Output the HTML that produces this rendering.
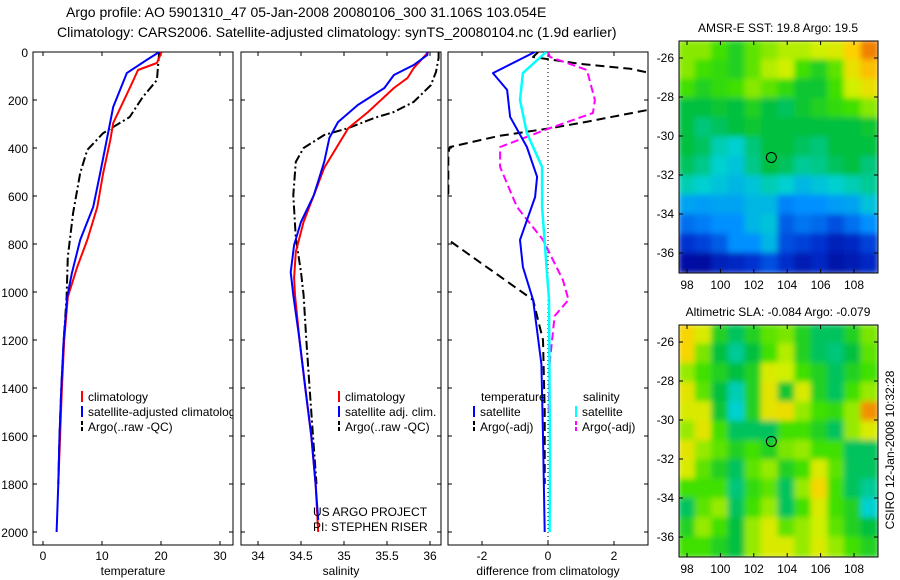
<!DOCTYPE html>
<html><head><meta charset="utf-8"><style>
html,body{margin:0;padding:0;background:#fff;}
svg{display:block;font-family:"Liberation Sans",sans-serif;}
</style></head><body>
<svg id="chart" width="900" height="580" viewBox="0 0 900 580" xmlns="http://www.w3.org/2000/svg">
<defs>
<clipPath id="c1"><rect x="33" y="52" width="200" height="493"/></clipPath>
<clipPath id="c2"><rect x="241" y="52" width="200" height="493"/></clipPath>
<clipPath id="c3"><rect x="448" y="52" width="200" height="493"/></clipPath>
<clipPath id="cm1"><rect x="679" y="41" width="199" height="232"/></clipPath>
<clipPath id="cm2"><rect x="679" y="325" width="199" height="232"/></clipPath>
<filter id="bl" x="-5%" y="-5%" width="110%" height="110%"><feGaussianBlur stdDeviation="3"/></filter>
</defs>
<g id="root"></g>
</svg>
<script>
// ---- data ----
const depthTicks=[0,200,400,600,800,1000,1200,1400,1600,1800,2000];
const tempTicks=[0,10,20,30];
const salTicks=[34,34.5,35,35.5,36];
const salTickLabels=["34","34.5","35","35.5","36"];
const diffTicks=[-2,0,2];
const lonTicks=[98,100,102,104,106,108];
const latTicks=[-26,-28,-30,-32,-34,-36];

const tClimD=[0,46,75,129,296,367,504,646,783,896,1021,1200,1400,1600,1800];
const tClimV=[20.1,19.3,16.1,15.1,11.9,11.4,10.2,9.2,7.5,5.8,4.2,3.6,3.2,2.9,2.6];
const tSatD=[0,33,88,229,367,504,646,783,921,1021,1200,1400,1600,1800,2000];
const tSatV=[19.7,17.6,14.2,11.9,10.8,9.7,8.5,6.3,4.9,4.1,3.5,3.1,2.8,2.6,2.3];
const tArgoD=[0,117,188,271,338,408,504,671,854,1021,1200,1400,1600,1800];
const tArgoV=[19.7,19.3,16.9,14.7,10.2,7.5,6.3,5.1,4.2,4.0,3.5,3.1,2.8,2.6];

const sClimD=[0,67,108,150,250,317,388,483,596,708,833,942,1013,1192,1400,1600,1800,2000];
const sClimV=[35.98,35.81,35.74,35.58,35.28,35.05,34.93,34.77,34.65,34.53,34.44,34.42,34.43,34.48,34.55,34.62,34.67,34.7];
const sSatD=[0,12,54,96,150,221,292,358,458,596,708,804,917,1013,1192,1400,1600,1800,1950];
const sSatV=[35.97,35.97,35.81,35.58,35.47,35.16,34.93,34.83,34.77,34.65,34.5,34.42,34.38,34.41,34.48,34.55,34.62,34.67,34.7];
const sArgoD=[0,25,83,138,208,250,275,317,346,400,458,596,775,917,1013,1192,1400,1600,1800];
const sArgoV=[36.1,36.1,36.07,36.01,35.81,35.58,35.35,35.05,34.77,34.53,34.44,34.41,34.44,34.5,34.53,34.56,34.6,34.64,34.68];

const dTSatD=[0,88,158,270,396,520,604,783,896,1033,1300,1600,2000];
const dTSatV=[-0.4,-1.67,-1.24,-1.15,-0.64,-0.33,-0.39,-0.85,-0.76,-0.45,-0.2,-0.15,-0.1];
const dSSatD=[0,4,88,200,338,479,646,921,1033,1400,1700,2000];
const dSSatV=[-0.05,-0.09,-0.76,-0.85,-0.64,-0.18,-0.18,-0.03,0.03,0.05,0.06,0.05];
const dSArgoD=[0,21,75,200,254,317,396,479,646,783,950,1033,1100,1300,1500];
const dSArgoV=[0,0.06,1.18,1.42,1.36,0.06,-1.45,-1.45,-0.94,-0.15,0.45,0.62,0.2,0.05,0.02];
const dTArgoD=[0,21,50,70,88,100,180,221,242,290,317,350,396,420,590,600,760,775,1033,1200,1500,1800];
const dTArgoV=[-0.3,-0.45,1,2.5,3.1,4.5,5,3.2,3.0,1.2,0.1,-1.5,-2.97,-3.02,-3.02,-5,-5,-3.1,-0.45,-0.15,-0.1,-0.1];

const sstGrid=[
[0.65,0.65,0.6,0.55,0.62,0.65,0.68,0.68,0.7,0.72,0.8,0.9],
[0.65,0.6,0.58,0.55,0.62,0.68,0.7,0.6,0.55,0.62,0.75,0.82],
[0.6,0.55,0.58,0.6,0.65,0.62,0.58,0.52,0.52,0.6,0.7,0.75],
[0.5,0.5,0.52,0.5,0.55,0.5,0.48,0.52,0.55,0.58,0.6,0.65],
[0.5,0.46,0.48,0.5,0.52,0.5,0.5,0.5,0.5,0.5,0.5,0.52],
[0.5,0.48,0.42,0.4,0.46,0.5,0.5,0.48,0.46,0.5,0.5,0.5],
[0.48,0.45,0.4,0.38,0.45,0.5,0.48,0.44,0.45,0.48,0.5,0.46],
[0.42,0.4,0.38,0.36,0.38,0.42,0.4,0.36,0.38,0.4,0.42,0.44],
[0.33,0.32,0.33,0.33,0.36,0.36,0.28,0.3,0.3,0.32,0.33,0.38],
[0.25,0.27,0.3,0.3,0.36,0.38,0.22,0.26,0.24,0.2,0.25,0.3],
[0.15,0.18,0.22,0.3,0.3,0.36,0.2,0.18,0.15,0.1,0.12,0.18],
[0.05,0.04,0.1,0.12,0.15,0.2,0.14,0.08,0.12,0.06,0.08,0.12]];
const slaGrid=[
[0.78,0.72,0.55,0.48,0.55,0.62,0.64,0.55,0.48,0.48,0.55,0.64],
[0.78,0.64,0.5,0.44,0.5,0.6,0.68,0.55,0.48,0.46,0.5,0.62],
[0.66,0.6,0.55,0.5,0.55,0.72,0.7,0.6,0.55,0.48,0.55,0.6],
[0.74,0.62,0.5,0.42,0.55,0.74,0.52,0.72,0.55,0.48,0.6,0.66],
[0.72,0.72,0.52,0.4,0.55,0.74,0.76,0.66,0.6,0.58,0.66,0.88],
[0.66,0.74,0.6,0.48,0.48,0.48,0.6,0.6,0.55,0.48,0.66,0.72],
[0.74,0.66,0.62,0.55,0.6,0.55,0.64,0.66,0.6,0.6,0.48,0.48],
[0.72,0.62,0.55,0.48,0.62,0.66,0.55,0.6,0.72,0.62,0.48,0.48],
[0.6,0.6,0.6,0.46,0.58,0.62,0.48,0.66,0.78,0.6,0.48,0.44],
[0.48,0.62,0.66,0.48,0.6,0.66,0.48,0.6,0.72,0.6,0.55,0.4],
[0.55,0.66,0.6,0.5,0.66,0.72,0.62,0.66,0.7,0.62,0.55,0.5],
[0.6,0.6,0.55,0.5,0.66,0.72,0.72,0.66,0.72,0.66,0.6,0.55]];
const floatLon=[103.05];
const floatLat=[-31.1];

// ---- scales ----
const Y=d=>52+d*0.24;
const XT=v=>43+v*5.9;
const XS=v=>258+(v-34)*86;
const XD=v=>548+v*33;
const MX=lon=>687+(lon-98)*16.7;
const MY1=lat=>58+(-26-lat)*19.5;
const MY2=lat=>342+(-26-lat)*19.5;

const NS="http://www.w3.org/2000/svg";
const root=document.getElementById('root');
function mk(tag,attrs,parent){const e=document.createElementNS(NS,tag);for(const k in attrs)e.setAttribute(k,attrs[k]);(parent||root).appendChild(e);return e;}
function txt(x,y,s,anchor,size,parent){const e=mk('text',{x:x,y:y,'text-anchor':anchor||'start','font-size':size||12,fill:'#000'},parent);e.textContent=s;return e;}

let t=txt(66,17,"Argo profile: AO 5901310_47 05-Jan-2008 20080106_300 31.106S 103.054E","start",14);


t=txt(57,37,"Climatology: CARS2006. Satellite-adjusted climatology: synTS_20080104.nc (1.9d earlier)","start",14);



function panel(x0,name,xTicks,xLabels,xf,xlabel,showY,clip){
  const g=mk('g',{});
  
  
  const ax=mk('rect',{x:x0,y:52,width:200,height:493,fill:'#fff',stroke:'#000','stroke-width':1},g);
  
  
  depthTicks.forEach(d=>{
    mk('line',{x1:x0,x2:x0+4,y1:Y(d),y2:Y(d),stroke:'#000'},g);
    mk('line',{x1:x0+196,x2:x0+200,y1:Y(d),y2:Y(d),stroke:'#000'},g);
    if(showY){const l=txt(x0-5,Y(d)+5,String(d),'end',12,g);
      
      }
  });
  xTicks.forEach((v,i)=>{
    const x=xf(v);
    mk('line',{x1:x,x2:x,y1:52,y2:56,stroke:'#000'},g);
    mk('line',{x1:x,x2:x,y1:541,y2:545,stroke:'#000'},g);
    const l=txt(x,560,xLabels[i],'middle',12,g);
    
    
  });
  const xl=txt(x0+100,575,xlabel,'middle',12,g);
  
  
  return mk('g',{'clip-path':'url(#'+clip+')'},g);
}
function line(g,ds,vs,xf,color,w,dash,name){
  const p=ds.map((d,i)=>(i?'L':'M')+xf(vs[i]).toFixed(1)+','+Y(d).toFixed(1)).join(' ');
  const e=mk('path',{d:p,fill:'none',stroke:color,'stroke-width':w,'stroke-dasharray':dash||'none','stroke-linejoin':'round'},g);
  
  
}
function legend(g,x,y,color,dash,label,name){
  const e=mk('g',{},g);
  
  
  mk('line',{x1:x,x2:x,y1:y-10,y2:y+1,stroke:color,'stroke-width':2,'stroke-dasharray':dash||'none'},e);
  txt(x+6,y,label,'start',12,e);
}

let p1=panel(33,'temperature-panel',tempTicks,tempTicks.map(String),XT,'temperature',true,'c1');
line(p1,tArgoD,tArgoV,XT,'#000',2,'9,3,2,3','argo-raw-temperature');
line(p1,tClimD,tClimV,XT,'#f00',2,null,'climatology-temperature');
line(p1,tSatD,tSatV,XT,'#00f',2,null,'satellite-temperature');
legend(p1,82,401,'#f00',null,'climatology','legend-climatology');
legend(p1,82,416,'#00f',null,'satellite-adjusted climatology','legend-satellite');
legend(p1,82,431,'#000','4,2','Argo(..raw -QC)','legend-argo');

let p2=panel(241,'salinity-panel',salTicks,salTickLabels,XS,'salinity',false,'c2');
line(p2,sArgoD,sArgoV,XS,'#000',2,'9,3,2,3','argo-raw-salinity');
line(p2,sClimD,sClimV,XS,'#f00',2,null,'climatology-salinity');
line(p2,sSatD,sSatV,XS,'#00f',2,null,'satellite-salinity');
legend(p2,339,401,'#f00',null,'climatology','legend-climatology');
legend(p2,339,416,'#00f',null,'satellite adj. clim.','legend-satellite');
legend(p2,339,431,'#000','4,2','Argo(..raw -QC)','legend-argo');
t=txt(313,516,'US ARGO PROJECT','start',12,p2);


t=txt(313,531,'PI: STEPHEN RISER','start',12,p2);



let p3=panel(448,'difference-panel',diffTicks,diffTicks.map(String),XD,'difference from climatology',false,'c3');
const z=mk('line',{x1:XD(0),x2:XD(0),y1:52,y2:545,stroke:'#000','stroke-dasharray':'1,3'},p3);


line(p3,dTArgoD,dTArgoV,XD,'#000',2,'9,5','argo-adj-temperature-diff');
line(p3,dSArgoD,dSArgoV,XD,'#f0f',2,'8,4','argo-adj-salinity-diff');
line(p3,dSSatD,dSSatV,XD,'#0ff',2.5,null,'satellite-salinity-diff');
line(p3,dTSatD,dTSatV,XD,'#00f',2,null,'satellite-temperature-diff');
t=txt(481,401,'temperature','start',12,p3);
t=txt(583,401,'salinity','start',12,p3);
legend(p3,474,416,'#00f',null,'satellite','legend-temp-satellite');
legend(p3,474,431,'#000','4,2','Argo(-adj)','legend-temp-argo');
legend(p3,576,416,'#0ff',null,'satellite','legend-sal-satellite');
legend(p3,576,431,'#f0f','4,2','Argo(-adj)','legend-sal-argo');

const cmapStops=[[0,[0,0,143]],[0.15,[0,48,208]],[0.3,[0,144,255]],[0.4,[0,208,208]],[0.5,[0,192,64]],[0.6,[64,224,0]],[0.7,[208,240,0]],[0.8,[255,208,0]],[0.9,[240,128,0]],[1,[192,64,0]]];
function cmap(v){for(let i=1;i<cmapStops.length;i++){if(v<=cmapStops[i][0]){const a=cmapStops[i-1],b=cmapStops[i];const f=(v-a[0])/(b[0]-a[0]);return 'rgb('+a[1].map((c,k)=>Math.round(c+(b[1][k]-c)*f)).join(',')+')';}}return 'rgb(192,64,0)';}
function map(y0,grid,MY,clip,name,title){
  const g=mk('g',{});
  
  
  const tt=txt(778,y0-9,title,'middle',12,g);
  
  
  const c=mk('g',{'clip-path':'url(#'+clip+')'},g);
  const f=mk('g',{filter:'url(#bl)'},c);
  const rows=grid.length,cols=grid[0].length,cw=199/cols,ch=232/rows;
  grid.forEach((r,i)=>r.forEach((v,j)=>{
    const cell=mk('rect',{x:679+j*cw-1,y:y0+i*ch-1,width:cw+2,height:ch+2,fill:cmap(v)},f);
    
    
  }));
  const b=mk('rect',{x:679,y:y0,width:199,height:232,fill:'none',stroke:'#000'},g);
  
  
  lonTicks.forEach(l=>{const x=MX(l);mk('line',{x1:x,x2:x,y1:y0,y2:y0+4,stroke:'#000'},g);mk('line',{x1:x,x2:x,y1:y0+228,y2:y0+232,stroke:'#000'},g);
    const lb=txt(x,y0+248,String(l),'middle',12,g);});
  latTicks.forEach(l=>{const y=MY(l);mk('line',{x1:679,x2:683,y1:y,y2:y,stroke:'#000'},g);mk('line',{x1:874,x2:878,y1:y,y2:y,stroke:'#000'},g);
    const lb=txt(674,y+4,String(l),'end',12,g);});
  floatLon.forEach((lo,i)=>{const m=mk('circle',{cx:MX(lo),cy:MY(floatLat[i]),r:5,fill:'none',stroke:'#000'},g);
    });
}
map(41,sstGrid,MY1,'cm1','sst-map','AMSR-E SST: 19.8 Argo: 19.5');
map(325,slaGrid,MY2,'cm2','sla-map','Altimetric SLA: -0.084  Argo: -0.079');

t=txt(0,0,'CSIRO 12-Jan-2008 10:32:28','middle',12);
t.setAttribute('transform','translate(894,450) rotate(-90)');


</script>
</body></html>
